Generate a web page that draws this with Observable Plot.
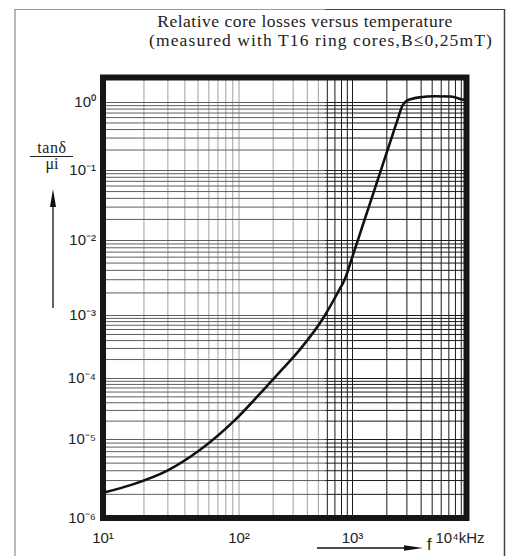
<!DOCTYPE html>
<html>
<head>
<meta charset="utf-8">
<script src="https://cdn.jsdelivr.net/npm/d3@7"></script>
<script src="https://cdn.jsdelivr.net/npm/@observablehq/plot@0.6"></script>
<style>
  body { margin: 0; background: #fff; }
  #wrap { position: relative; width: 509px; height: 556px; overflow: hidden; background: #fff; }
  #chart { position: absolute; left: 0; top: 0; }
  .title { position: absolute; text-align: center; transform: translateX(-50%);
           font-family: "Liberation Serif", "Times New Roman", serif; font-size: 17.5px;
           color: #222; white-space: nowrap; line-height: 1; }
  #deco { position: absolute; left: 0; top: 0; }
</style>
</head>
<body>
<div id="wrap">
  <div class="title" style="top:13px; left:305px; letter-spacing:0.5px">Relative core losses versus temperature</div>
  <div class="title" style="top:32px; left:321px; letter-spacing:1.1px">(measured with T16 ring cores,B≤0,25mT)</div>
  <div id="chart"></div>
  <svg id="deco" width="509" height="556" xmlns="http://www.w3.org/2000/svg">
    <!-- outer box -->
    <line x1="15" y1="9.5" x2="325" y2="9.5" stroke="#9a9a9a" stroke-width="1.2"/>
    <line x1="325" y1="9.5" x2="505" y2="9.5" stroke="#444" stroke-width="1.2"/>
    <line x1="15" y1="9" x2="15" y2="556" stroke="#8a8a8a" stroke-width="1.2"/>
    <line x1="504.5" y1="9" x2="504.5" y2="556" stroke="#444" stroke-width="1.5"/>
    <!-- y-axis title -->
    <text x="52" y="153" text-anchor="middle" font-family="Liberation Serif, Times New Roman, serif" font-size="16" fill="#222" letter-spacing="0.6">tanδ</text>
    <line x1="30" y1="156.5" x2="73" y2="156.5" stroke="#222" stroke-width="1"/>
    <text x="52" y="169" text-anchor="middle" font-family="Liberation Serif, Times New Roman, serif" font-size="16" fill="#222">μi</text>
    <line x1="53" y1="308" x2="53" y2="200" stroke="#111" stroke-width="1.3"/>
    <path d="M53 189 L56 207 L50 207 Z" fill="#111"/>
    <!-- x-axis arrow and f -->
    <line x1="317" y1="548" x2="410" y2="548" stroke="#111" stroke-width="1.3"/>
    <path d="M423 548 L404 545.2 L404 550.8 Z" fill="#111"/>
    <text x="427" y="550" font-family="Liberation Sans, Arial, sans-serif" font-size="16" fill="#222">f</text>
  </svg>
</div>
<script>
// frequency f in kHz
const freq = [10, 16.8, 29.7, 52.1, 91.6, 177, 242, 348, 558, 732, 868, 1000, 1224, 1592, 2069, 2483, 2746, 2977, 3291, 3947, 5127, 7245, 9386, 10000];
// tan(delta)/mu_i
const loss = [2.09e-6, 2.70e-6, 4.01e-6, 7.45e-6, 2.0e-5, 7.6e-5, 1.42e-4, 2.96e-4, 9.4e-4, 1.95e-3, 3.21e-3, 6.15e-3, 1.61e-2, 5.89e-2, 0.22, 0.555, 0.903, 1.052, 1.126, 1.196, 1.238, 1.225, 1.096, 1.07];

const xTicks = [10, 100, 1000];
const xTickLabels = ["10¹", "10²", "10³"];
const xLastLabel = ["10⁴kHz"];
const xLastTick = [10000];
const yTicks = [1e-6, 1e-5, 1e-4, 1e-3, 1e-2, 1e-1, 1];
const yTickLabels = ["10⁻⁶", "10⁻⁵", "10⁻⁴", "10⁻³", "10⁻²", "10⁻¹", "10⁰"];

const data = freq.map((f, i) => ({f, v: loss[i]}));

// log grid lines (1..9 per decade)
const xGrid = [];
for (const k of [10, 100, 1000]) for (let m = 1; m <= 9; m++) xGrid.push(m * k);
xGrid.push(10000);
const yGrid = [];
for (const k of [1e-6, 1e-5, 1e-4, 1e-3, 1e-2, 1e-1]) for (let m = 1; m <= 9; m++) yGrid.push(m * k);
yGrid.push(1);
const split = 580; // darker scanned region begins here

const chart = Plot.plot({
  width: 509,
  height: 556,
  marginLeft: 102.5,
  marginRight: 43,
  marginTop: 77,
  marginBottom: 38.5,
  style: {background: "transparent", fontFamily: "'Liberation Sans', Arial, sans-serif", color: "#222"},
  x: {type: "log", domain: [10, 100, 1000, 10000], range: [102.5, 238.5, 352, 466]},
  y: {type: "log", domain: [1e-6, 1e-5, 1e-4, 1e-3, 1e-2, 1e-1, 1, 2.33], range: [517.5, 439, 378, 315, 240, 170, 102, 77]},
  marks: [
    Plot.ruleX(xGrid.filter(d => d < split), {stroke: "#a0a0a0", strokeWidth: 1}),
    Plot.ruleX(xGrid.filter(d => d >= split), {stroke: "#1a1a1a", strokeWidth: 1}),
    Plot.ruleY(yGrid, {x1: 10, x2: split, stroke: "#5e5e5e", strokeWidth: 1}),
    Plot.ruleY(yGrid, {x1: split, x2: 10000, stroke: "#1a1a1a", strokeWidth: 1}),
    Plot.line(data, {x: "f", y: "v", stroke: "#111", strokeWidth: 2.6, curve: "monotone-x"}),
    Plot.frame({stroke: "#161616", strokeWidth: 6}),
    Plot.axisY(yTicks, {tickSize: 0, tickPadding: 7, fontSize: 15, label: null,
      tickFormat: d => yTickLabels[yTicks.indexOf(d)]}),
    Plot.axisX(xTicks, {tickSize: 0, tickPadding: 14.5, fontSize: 15, label: null,
      tickFormat: d => xTickLabels[xTicks.indexOf(d)]}),
    Plot.text(xLastTick, {x: d => d, frameAnchor: "bottom", lineAnchor: "top", dy: 14.5, dx: -31,
      textAnchor: "start", fontSize: 15, text: (d, i) => xLastLabel[i], fill: "#222"})
  ]
});
document.getElementById("chart").appendChild(chart);
</script>
</body>
</html>
